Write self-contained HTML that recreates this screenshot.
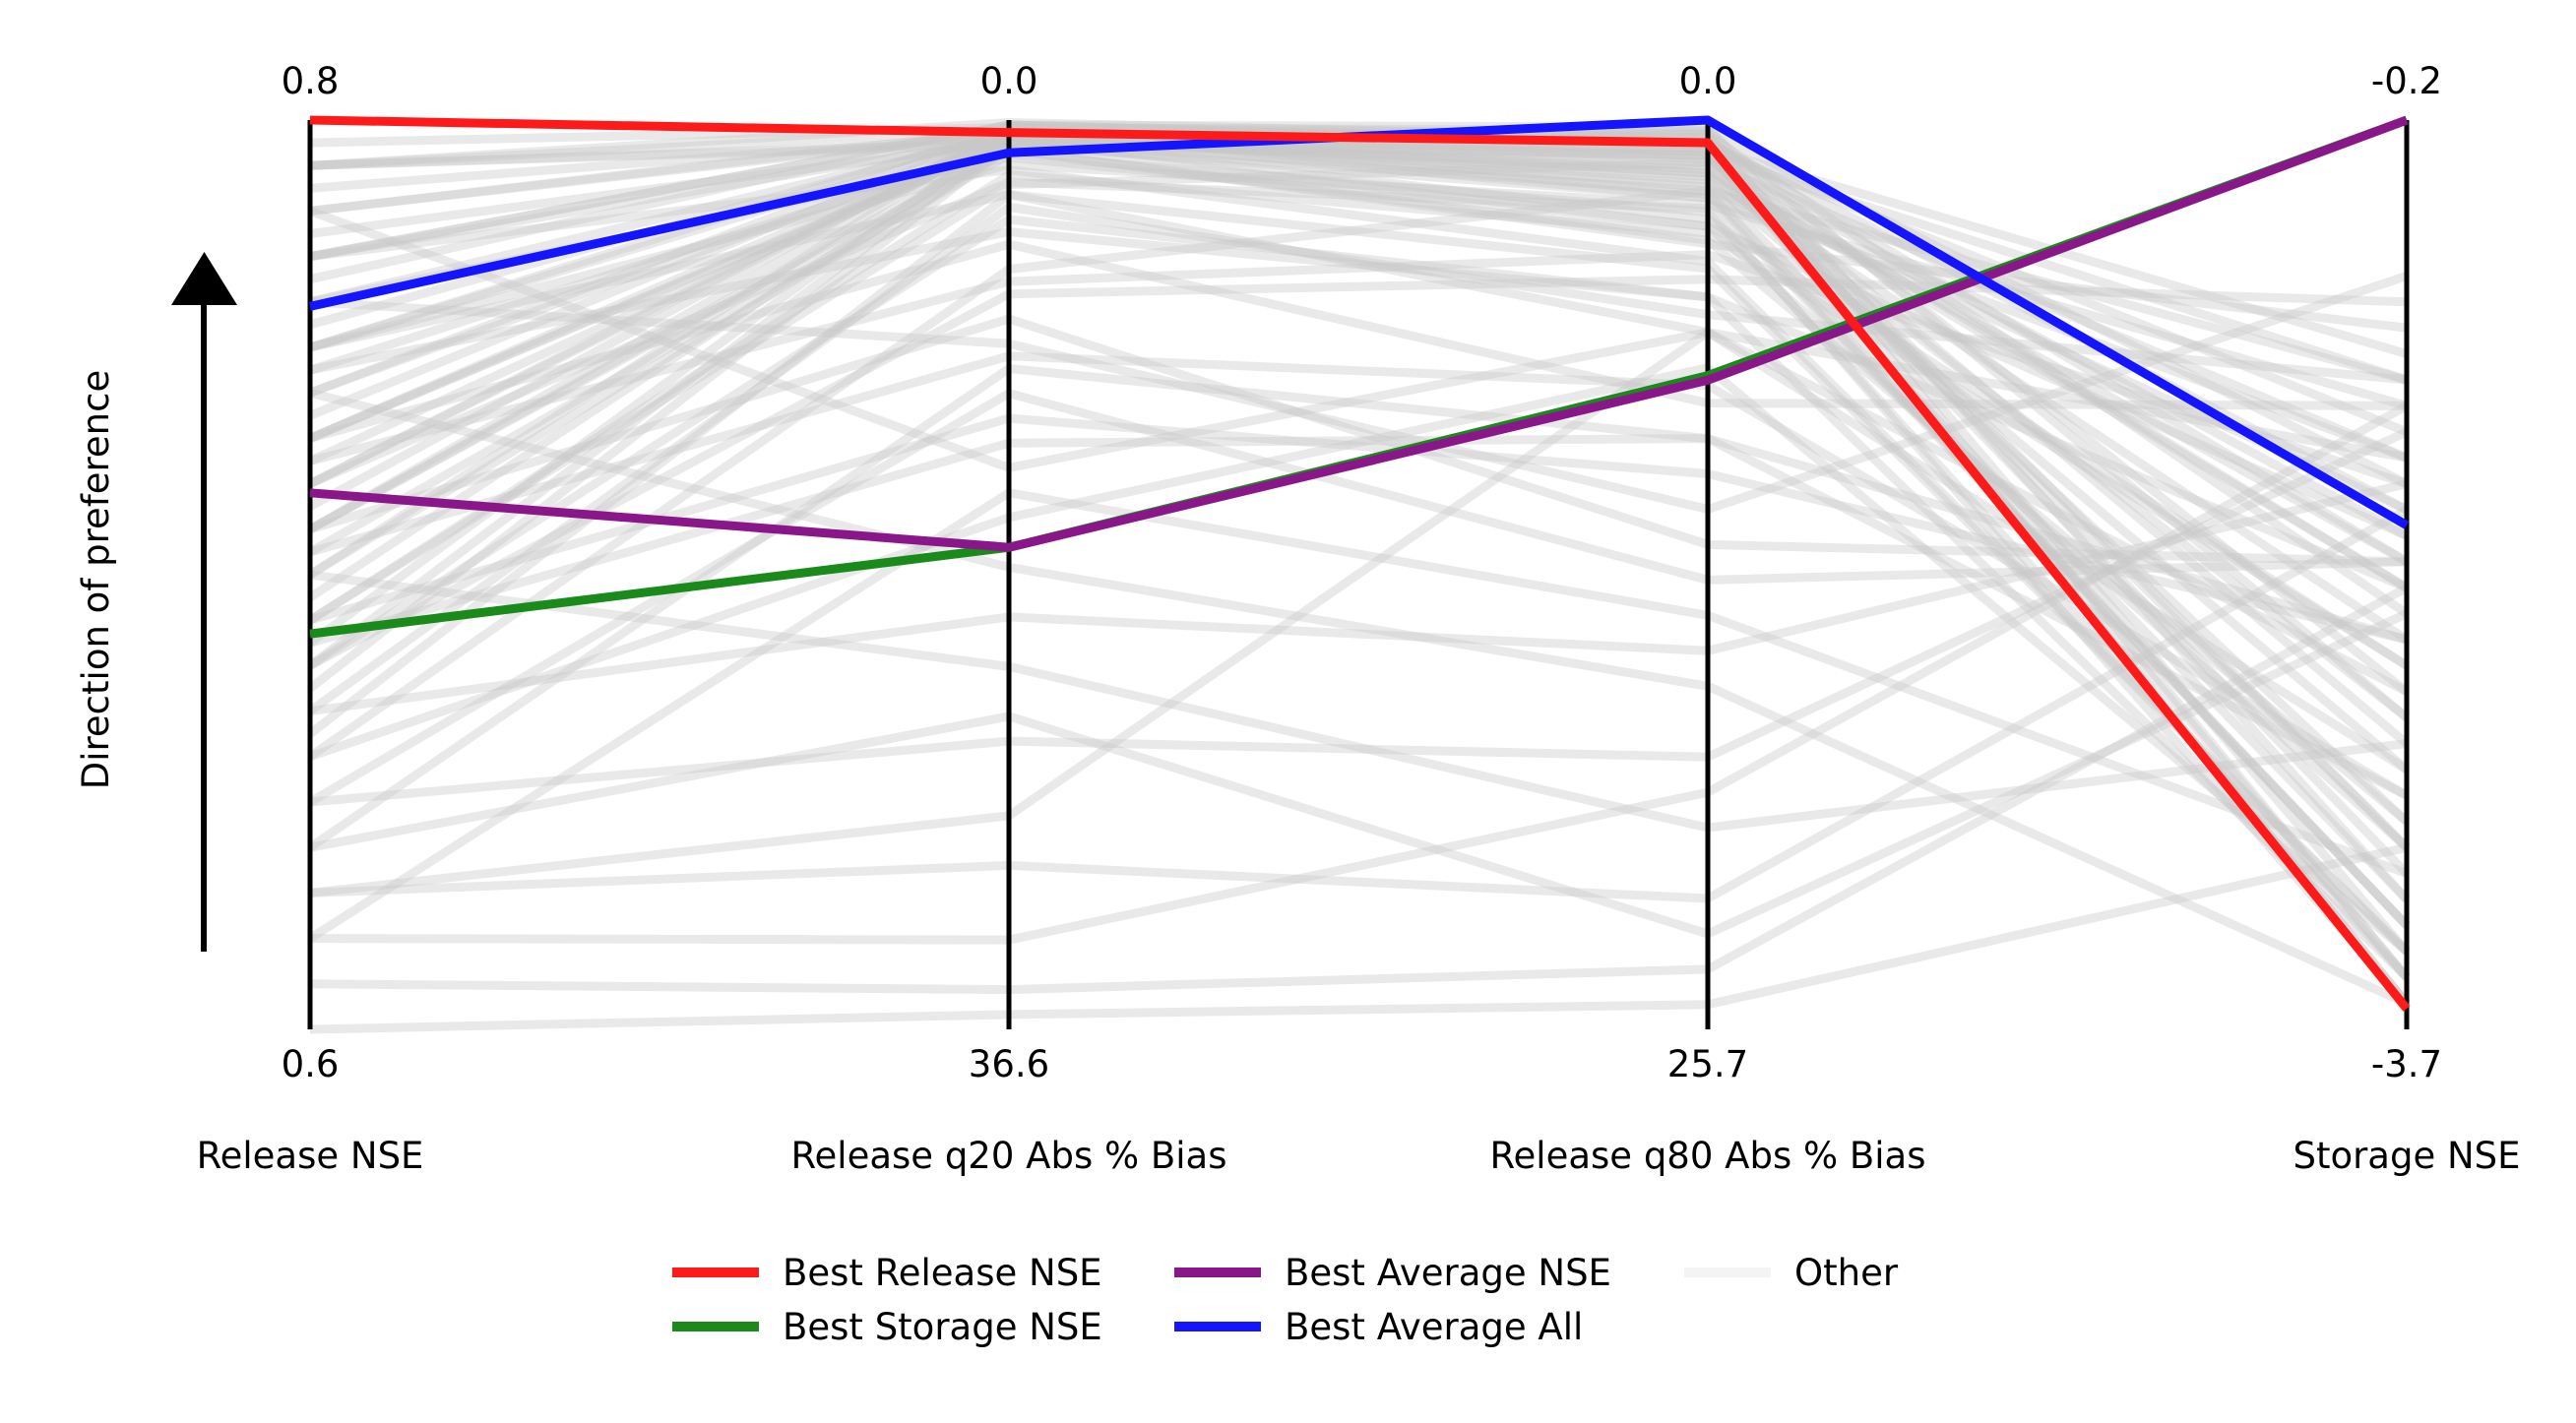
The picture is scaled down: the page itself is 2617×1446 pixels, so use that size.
<!DOCTYPE html>
<html><head><meta charset="utf-8"><style>
html,body{margin:0;padding:0;background:#fff;}
svg{display:block;font-family:"DejaVu Sans","Liberation Sans",sans-serif;}
</style></head><body>
<svg id="chart" width="2617" height="1446" viewBox="0 0 2617 1446" xmlns="http://www.w3.org/2000/svg">
<g id="others"></g>
<g id="axes"></g>
<g id="highlights"></g>
<g id="labels"></g>
<g>
<line x1="207" y1="967" x2="207" y2="300" stroke="#000" stroke-width="6"/>
<polygon points="174,310 241,310 207.5,256" fill="#000"/>
</g>
<text x="0" y="0" transform="translate(110,589) rotate(-90)" text-anchor="middle" font-size="37">Direction of preference</text>
<g id="legend"></g>
</svg>
<script>
const axisNames = ["Release NSE", "Release q20 Abs % Bias", "Release q80 Abs % Bias", "Storage NSE"];
const axisTopLabels = ["0.8", "0.0", "0.0", "-0.2"];
const axisBottomLabels = ["0.6", "36.6", "25.7", "-3.7"];
const axisTop = [0.8, 0.0, 0.0, -0.2];
const axisBottom = [0.6, 36.6, 25.7, -3.7];

const bestReleaseNSE = [0.8, 0.5, 0.64, -3.62];
const bestStorageNSE = [0.687, 17.2, 7.22, -0.2];
const bestAverageNSE = [0.718, 17.2, 7.35, -0.2];
const bestAverageAll = [0.759, 1.32, 0.0, -1.76];

const otherNSE = [0.79,0.78,0.77,0.76,0.75,0.74,0.73,0.72,0.71,0.70,0.69,0.68,0.67,0.66,0.65,0.64,0.63,0.62,0.61,0.78,0.76,0.74,0.72,0.70,0.68,0.66,0.75,0.73,0.71,0.69,0.77,0.67,0.79,0.65,0.63,0.60,0.62,0.64,
 0.795,0.785,0.775,0.765,0.755,0.745,0.735,0.725,0.715,0.705,0.695,0.685,0.675,0.79,0.78,0.77,0.76,0.75,0.74,0.73,0.72,0.71,0.70,0.69,0.68,0.79,0.77,0.75,0.73,0.71,0.745,0.725,0.705,0.685,0.665];
const otherQ20 = [1.0,0.5,2.0,1.5,3.0,0.8,5.0,2.5,8.0,1.2,12.0,4.0,20.0,6.0,25.0,10.0,30.0,15.0,35.0,14.0,9.0,18.0,0.3,22.0,7.0,16.0,0.6,1.0,0.4,2.2,0.2,3.5,0.9,11.0,28.0,36.0,33.0,24.0,
 0.3,0.6,0.9,0.2,0.5,1.1,0.4,0.8,0.3,1.4,0.7,0.5,1.0,0.1,0.4,0.2,0.6,1.8,0.3,0.9,0.5,1.2,0.2,2.6,0.8,0.4,0.7,0.3,0.6,1.0,4.5,6.5,9.5,13.0,3.0];
const otherQ80 = [2.0,1.5,4.0,3.0,6.0,1.0,8.0,2.5,12.0,3.5,10.0,5.0,15.0,2.0,18.0,9.0,22.0,14.0,24.0,6.0,11.0,16.0,0.8,20.0,4.5,7.0,1.2,2.2,0.5,3.2,0.6,5.5,1.8,13.0,6.0,25.0,19.0,23.0,
 0.4,0.9,1.3,0.7,1.6,0.3,2.1,1.0,0.6,2.6,1.4,0.8,3.0,0.5,1.1,0.2,1.7,2.4,0.9,0.4,1.9,3.4,0.7,1.2,2.8,0.6,1.5,0.3,2.2,1.0,5.0,3.8,7.5,9.0,4.2];
const otherStorage = [-1.2,-2.5,-3.4,-1.8,-1.5,-3.0,-1.3,-3.6,-1.9,-1.0,-2.2,-3.5,-1.6,-3.3,-1.4,-2.8,-1.7,-3.1,-2.0,-2.4,-0.8,-3.6,-1.1,-2.6,-0.9,-3.4,-2.0,-1.5,-3.5,-2.3,-1.7,-1.2,-3.2,-1.9,-2.7,-3.0,-1.3,-2.1,
 -3.4,-3.1,-2.9,-3.6,-2.2,-1.6,-3.3,-2.6,-1.9,-3.5,-2.0,-1.4,-3.0,-2.4,-1.8,-3.2,-2.7,-1.3,-3.5,-2.1,-1.7,-2.9,-3.6,-1.5,-2.3,-3.0,-1.9,-2.5,-3.3,-1.2,-2.0,-1.6,-2.8,-2.2,-3.4];

const axisX = [315, 1025, 1735, 2445];
const yTop = 122, yBot = 1046;
const NS = "http://www.w3.org/2000/svg";
function yScale(i, v){ return yBot - (v - axisBottom[i])/(axisTop[i]-axisBottom[i])*(yBot-yTop); }
function pts(row){ return row.map((v,i)=>axisX[i]+","+yScale(i,v).toFixed(1)).join(" "); }

const og = document.getElementById("others");
for (let k=0;k<otherNSE.length;k++){
  const row=[otherNSE[k],otherQ20[k],otherQ80[k],otherStorage[k]];
  const pl=document.createElementNS(NS,"polyline");
  
  
  pl.setAttribute("points",pts(row));
  pl.setAttribute("fill","none");
  pl.setAttribute("stroke","#c8c8c8");
  pl.setAttribute("stroke-opacity","0.4");
  pl.setAttribute("stroke-width","9");
  og.appendChild(pl);
}

const ag = document.getElementById("axes");
const lg = document.getElementById("labels");
for (let i=0;i<4;i++){
  const l=document.createElementNS(NS,"line");
  
  
  l.setAttribute("x1",axisX[i]);l.setAttribute("x2",axisX[i]);
  l.setAttribute("y1",yTop);l.setAttribute("y2",yBot);
  l.setAttribute("stroke","#000");l.setAttribute("stroke-width","5");
  ag.appendChild(l);
  const mk=(txt,y)=>{const t=document.createElementNS(NS,"text");
    t.setAttribute("x",axisX[i]);t.setAttribute("y",y);t.setAttribute("text-anchor","middle");
    t.setAttribute("font-size","37");t.textContent=txt;return t;};
  const t1=mk(axisTopLabels[i],95);
  
  
  lg.appendChild(t1);
  const t2=mk(axisBottomLabels[i],1094);
  
  
  lg.appendChild(t2);
  const t3=mk(axisNames[i],1187);
  
  
  lg.appendChild(t3);
}

const hg=document.getElementById("highlights");
const series=[[bestStorageNSE,"#1a8a1a"],[bestAverageNSE,"#8a178a"],[bestAverageAll,"#1414ff"],[bestReleaseNSE,"#ff1a1a"]];
const snames=["best-storage-nse-line","best-average-nse-line","best-average-all-line","best-release-nse-line"];
series.forEach((s,j)=>{
  const pl=document.createElementNS(NS,"polyline");
  
  
  pl.setAttribute("points",pts(s[0]));
  pl.setAttribute("fill","none");pl.setAttribute("stroke",s[1]);
  pl.setAttribute("stroke-width","9");pl.setAttribute("stroke-linejoin","round");
  hg.appendChild(pl);
});

const leg=document.getElementById("legend");
const items=[["Best Release NSE","#ff1a1a",683,1293],["Best Storage NSE","#1a8a1a",683,1348],["Best Average NSE","#8a178a",1193,1293],["Best Average All","#1414ff",1193,1348],["Other","#f4f4f4",1711,1293]];
items.forEach(it=>{
  const l=document.createElementNS(NS,"line");
  
  
  l.setAttribute("x1",it[2]);l.setAttribute("x2",it[2]+88);
  l.setAttribute("y1",it[3]);l.setAttribute("y2",it[3]);
  l.setAttribute("stroke",it[1]);l.setAttribute("stroke-width","10");
  leg.appendChild(l);
  const t=document.createElementNS(NS,"text");
  
  
  t.setAttribute("x",it[2]+112);t.setAttribute("y",it[3]+13);
  t.setAttribute("font-size","37");t.textContent=it[0];
  leg.appendChild(t);
});
</script>
</body></html>
